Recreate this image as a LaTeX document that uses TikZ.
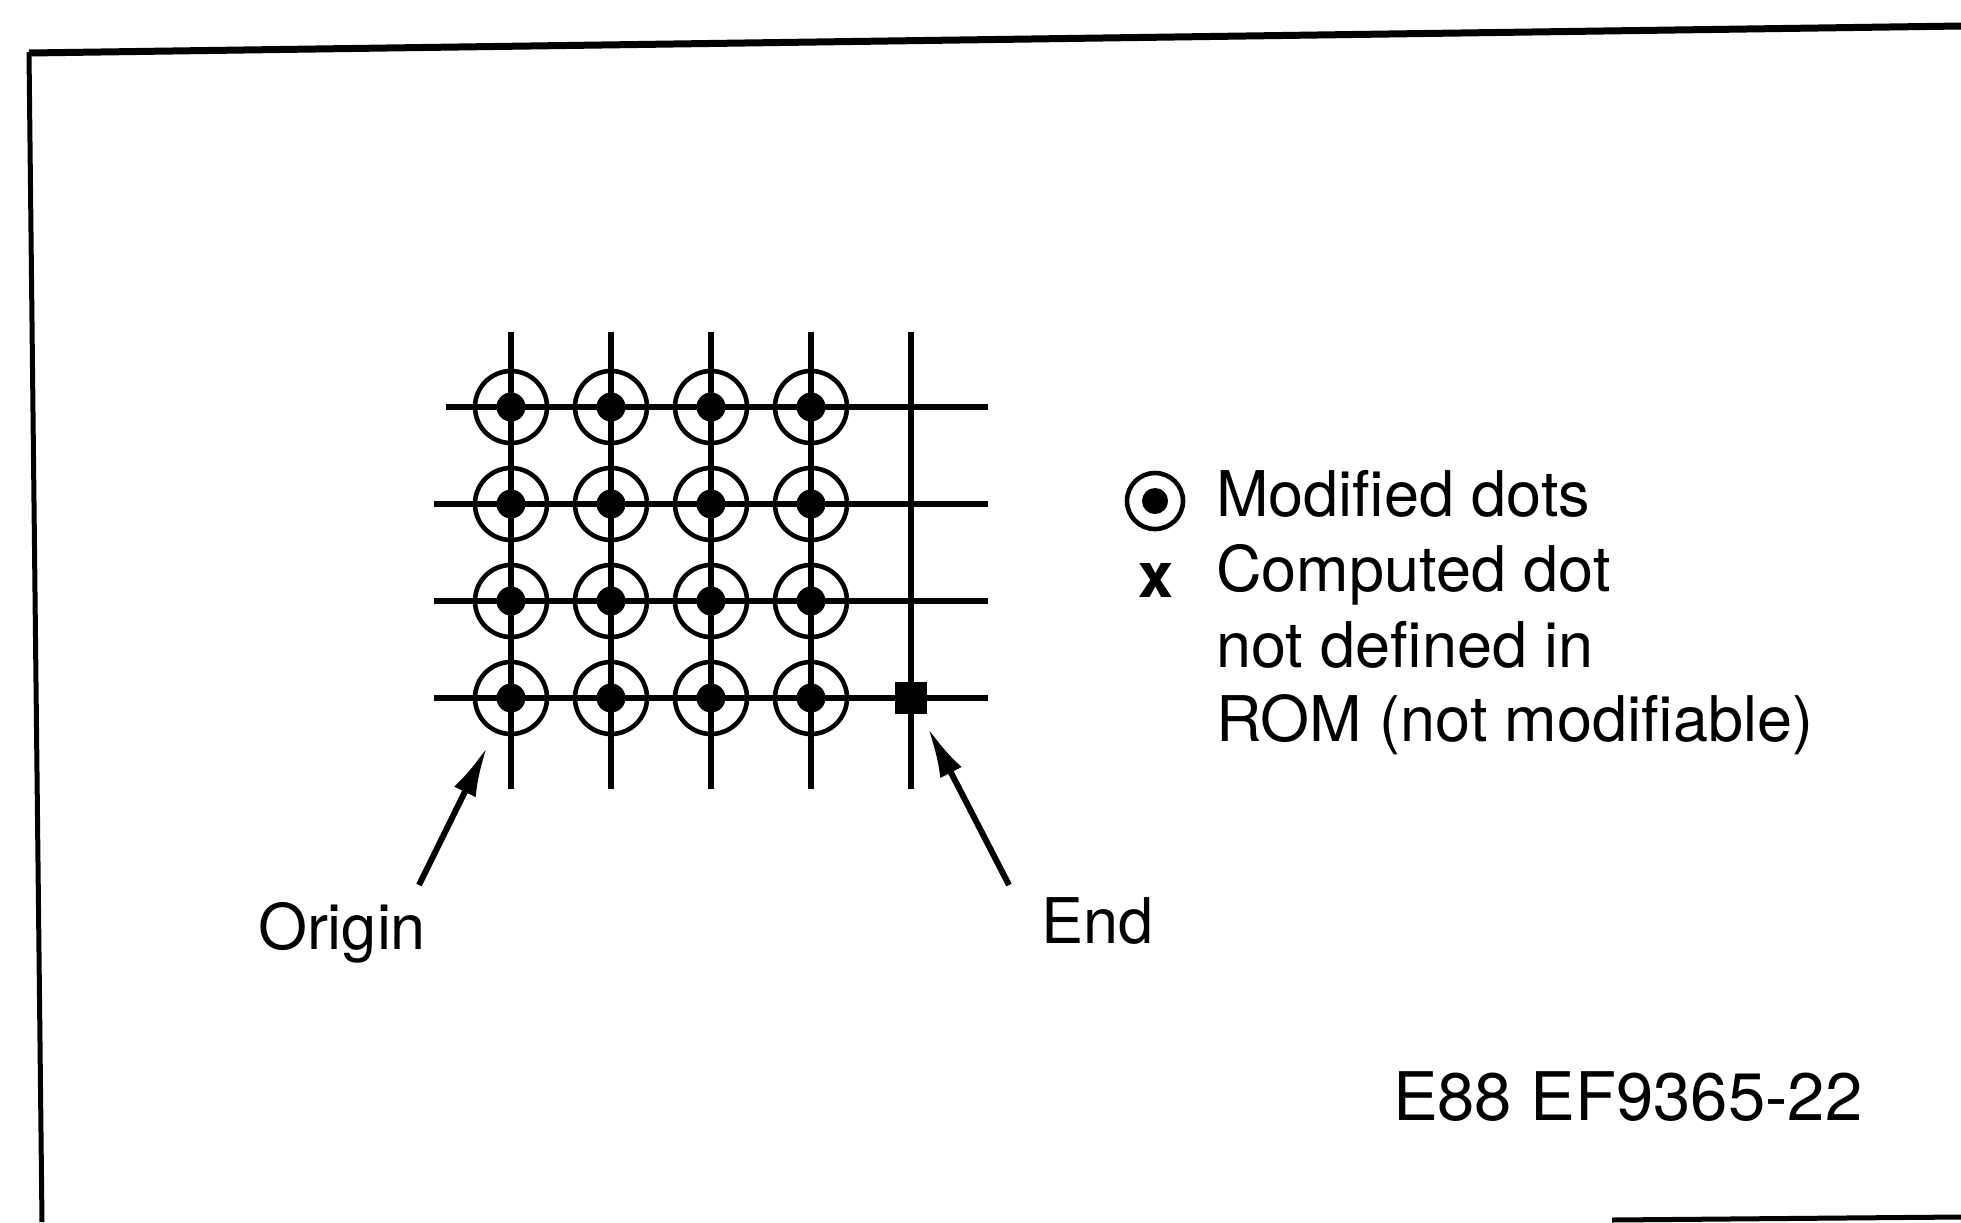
\documentclass[tikz,border=0pt]{standalone}
\usepackage{fontspec}
\setmainfont{TeX Gyre Heros}
\usetikzlibrary{arrows.meta,positioning}

\begin{document}
\begin{tikzpicture}[
  x=0.5pt,
  y=-0.5pt,
  >=Latex,
  every node/.style={
    inner sep=0pt,
    outer sep=0pt,
    text=black,
  },
  lbl/.style={
    font=\fontsize{31.5}{37.5}\selectfont,
    anchor=base west,
  },
  pageedge/.style={
    line width=2.5pt,
  },
  gridline/.style={
    line width=2.8pt,
  },
  ring/.style={
    circle,
    draw,
    line width=2.3pt,
    minimum size=36pt,
  },
  pip/.style={
    circle,
    fill,
    minimum size=14.5pt,
  },
  endsq/.style={
    rectangle,
    fill,
    minimum size=16pt,
  },
  ptr/.style={
    -{Latex[length=25pt,width=12pt]},
    line width=3pt,
  },
]
\useasboundingbox (0,0) rectangle (1961,1222);

% --- page edge ---
\draw[pageedge, line width=3.5pt] (1961,26) -- (29,53);
\draw[pageedge] (29,52) -- (42,1222);
\draw[pageedge] (1612,1220) -- (1961,1217);

% --- grid ---
\foreach \i in {0,...,4}
  \draw[gridline] (511+100*\i,332) -- (511+100*\i,789);
\foreach \y/\xa in {407/446,504/434,601/434,698/434}
  \draw[gridline] (\xa,\y) -- (988,\y);

% --- modified dots ---
\foreach \i in {1,...,4}
  \foreach \j in {1,...,4} {
    \node[ring] (r\i\j) at (411+100*\i,795-97*\j) {};
    \node[pip] (p\i\j) at (r\i\j) {};
  }
\node[endsq] (endpt) at (911,698) {};

% --- legend ---
\node[ring, minimum size=28pt] (keyring) at (1155,501) {};
\node[pip, minimum size=13pt] (keypip) at (keyring) {};
\node[lbl] (keymod) at (1216,516) {Modified dots};
\node[font=\fontsize{31.5}{37.5}\selectfont\bfseries] (keyx) at (1156,580) {x};
\node[lbl] (keycomp) at (1216,591) {Computed dot};
\node[lbl] (keynot) at (1216,667) {not defined in};
\node[lbl] (keyrom) at (1216,741) {ROM (not modifiable)};

% --- labels ---
\node[lbl] (origin) at (258,949) {Origin};
\node[lbl] (endlbl) at (1041,943) {End};
\node[lbl, font=\fontsize{33.5}{40}\selectfont] (code) at (1393,1120) {E88 EF9365-22};

\coordinate (otail) at (419,885);
\coordinate (otip) at (487,747);
\coordinate (etail) at (1009,885);
\coordinate (etip) at (928,728);
\draw[ptr] (otail) -- (otip);
\draw[ptr] (etail) -- (etip);

\end{tikzpicture}
\end{document}
